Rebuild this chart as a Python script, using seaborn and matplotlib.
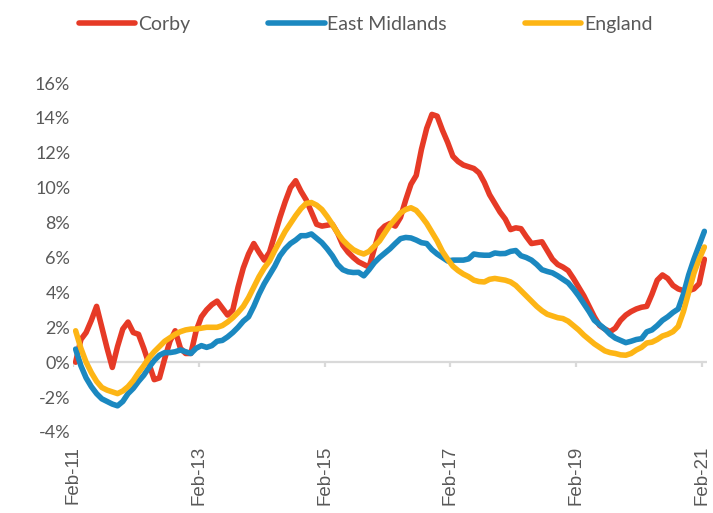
import numpy as np
import pandas as pd
import matplotlib
matplotlib.use("Agg")
import matplotlib.pyplot as plt
import seaborn as sns
from matplotlib.ticker import FuncFormatter

# Monthly annual change (%), Feb-11 .. Feb-21
corby = [
    0.0, 1.3, 1.7, 2.4, 3.2, 2.0, 0.8, -0.3, 0.9, 1.9,
    2.3, 1.7, 1.6, 0.8, -0.1, -1.0, -0.9, 0.2, 1.2, 1.8,
    0.8, 0.5, 0.5, 1.8, 2.6, 3.0, 3.3, 3.5, 3.1, 2.7,
    3.0, 4.3, 5.4, 6.2, 6.8, 6.3, 5.85, 6.3, 7.3, 8.3,
    9.2, 10.0, 10.4, 9.8, 9.3, 8.6, 7.9, 7.8, 7.85, 7.9,
    7.4, 6.7, 6.3, 6.0, 5.75, 5.6, 5.45, 6.5, 7.5, 7.8,
    7.95, 7.8, 8.3, 9.3, 10.2, 10.7, 12.2, 13.4, 14.2, 14.1,
    13.3, 12.6, 11.8, 11.5, 11.3, 11.2, 11.1, 10.85, 10.3, 9.6,
    9.1, 8.6, 8.2, 7.6, 7.7, 7.65, 7.2, 6.8, 6.85, 6.9,
    6.4, 5.9, 5.6, 5.45, 5.25, 4.8, 4.3, 3.8, 3.2, 2.6,
    2.1, 1.9, 1.75, 1.95, 2.4, 2.7, 2.9, 3.05, 3.15, 3.2,
    3.9, 4.7, 5.0, 4.8, 4.4, 4.2, 4.1, 4.1, 4.2, 4.5,
    5.9,
]
east_midlands = [
    0.75, -0.2, -0.9, -1.4, -1.8, -2.1, -2.25, -2.4, -2.5, -2.25,
    -1.8, -1.5, -1.1, -0.75, -0.3, 0.1, 0.4, 0.55, 0.55, 0.6,
    0.7, 0.6, 0.5, 0.8, 0.95, 0.85, 0.95, 1.2, 1.25, 1.45,
    1.7, 2.0, 2.35, 2.6, 3.2, 3.9, 4.5, 5.0, 5.5, 6.1,
    6.5, 6.8, 7.0, 7.25, 7.25, 7.35, 7.1, 6.85, 6.5, 6.1,
    5.6, 5.3, 5.18, 5.14, 5.15, 4.95, 5.3, 5.7, 6.0, 6.25,
    6.5, 6.8, 7.08, 7.15, 7.12, 7.0, 6.85, 6.8, 6.45, 6.2,
    6.0, 5.8, 5.85, 5.85, 5.85, 5.92, 6.2, 6.15, 6.13, 6.13,
    6.26, 6.22, 6.23, 6.35, 6.4, 6.1, 6.0, 5.85, 5.6, 5.3,
    5.2, 5.12, 4.95, 4.75, 4.55, 4.2, 3.8, 3.35, 2.9, 2.4,
    2.15, 1.9, 1.6, 1.38, 1.25, 1.12, 1.2, 1.3, 1.35, 1.74,
    1.85, 2.1, 2.4, 2.6, 2.85, 3.05, 3.9, 5.0, 5.9, 6.7,
    7.5,
]
england = [
    1.8, 0.8, 0.0, -0.6, -1.1, -1.45, -1.6, -1.7, -1.8, -1.65,
    -1.4, -1.05, -0.6, -0.2, 0.25, 0.6, 0.9, 1.2, 1.4, 1.6,
    1.75, 1.85, 1.9, 1.9, 1.95, 2.0, 2.0, 2.0, 2.1, 2.3,
    2.55, 2.85, 3.2, 3.7, 4.3, 4.9, 5.4, 5.8, 6.4, 6.95,
    7.5, 7.95, 8.4, 8.8, 9.1, 9.15, 9.0, 8.75, 8.35, 7.9,
    7.4, 7.0, 6.7, 6.45, 6.3, 6.2, 6.35, 6.65, 6.95, 7.4,
    7.85, 8.2, 8.55, 8.75, 8.85, 8.7, 8.35, 7.95, 7.45, 6.95,
    6.35, 5.9, 5.5, 5.25, 5.05, 4.9, 4.7, 4.62, 4.6, 4.75,
    4.8, 4.75, 4.7, 4.6, 4.4, 4.1, 3.8, 3.5, 3.2, 2.95,
    2.75, 2.65, 2.55, 2.5, 2.35, 2.1, 1.85, 1.55, 1.3, 1.05,
    0.85, 0.65, 0.55, 0.5, 0.42, 0.4, 0.5, 0.7, 0.85, 1.1,
    1.15, 1.3, 1.5, 1.6, 1.75, 2.05, 2.9, 4.0, 5.1, 5.9,
    6.6,
]
series_names = ["Corby", "East Midlands", "England"]
series_colors = ["#E63A26", "#1B88C0", "#FDB515"]
tick_labels = ["Feb-11", "Feb-13", "Feb-15", "Feb-17", "Feb-19", "Feb-21"]
y_ticks = [-4, -2, 0, 2, 4, 6, 8, 10, 12, 14, 16]

months = np.arange(len(corby))
df = pd.DataFrame({"month": months, "Corby": corby,
                   "East Midlands": east_midlands, "England": england})
long_df = df.melt(id_vars="month", var_name="area", value_name="change")

sns.set_style("white")
plt.rcParams["font.family"] = ["Lato", "DejaVu Sans"]

fig = plt.figure(figsize=(7.13, 5.13), dpi=100)
ax = fig.add_axes([0.1024, 0.1579, 0.8892, 0.6803])

sns.lineplot(data=long_df, x="month", y="change", hue="area",
             hue_order=series_names, palette=series_colors,
             linewidth=4, ax=ax, legend=False)
for line in ax.get_lines():
    line.set_solid_capstyle("round")
    line.set_solid_joinstyle("round")

# zero axis line with tick marks at category boundaries
grey = "#D9D9D9"
tick_pos = [-0.5 + 24 * k for k in range(len(tick_labels))]
ax.axhline(0, color=grey, linewidth=1.6, zorder=0)
ax.vlines(tick_pos, -0.3, 0, color=grey, linewidth=1.6, zorder=0)

ax.set_xlim(-0.5, len(corby) - 0.5)
ax.set_ylim(-4, 16)
ax.set_xticks(tick_pos)
ax.set_xticklabels(tick_labels, rotation=90, fontsize=13.5, color="#595959",
                   family=["Liberation Sans", "DejaVu Sans"])
ax.set_yticks(y_ticks)
ax.yaxis.set_major_formatter(FuncFormatter(lambda v, p: f"{int(round(v))}%"))
ax.tick_params(axis="x", length=0, pad=10)
ax.tick_params(axis="y", length=0, pad=2, labelsize=13, labelcolor="#595959")
ax.set_xlabel("")
ax.set_ylabel("")
for s in ax.spines.values():
    s.set_visible(False)

handles = [plt.Line2D([], [], color=c, linewidth=4, solid_capstyle="round")
           for c in series_colors]
fig.legend(handles, series_names, loc="center", bbox_to_anchor=(0.513, 0.952),
           ncol=3, frameon=False, fontsize=14, handlelength=2.9,
           handletextpad=0.15, columnspacing=4.0, labelcolor="#595959")

fig.savefig("out.png", dpi=100)
